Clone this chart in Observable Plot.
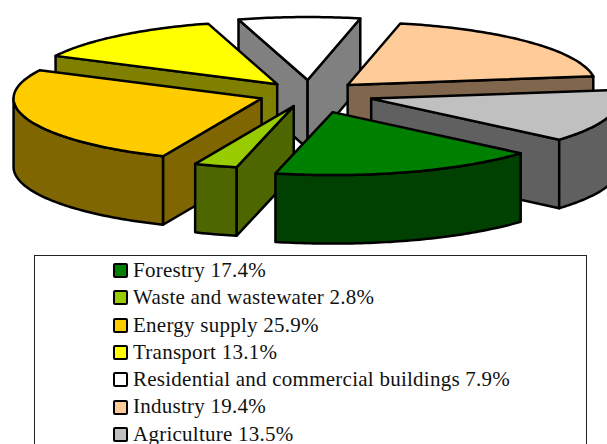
<!DOCTYPE html>
<html><head><meta charset="utf-8">
<script src="https://cdn.jsdelivr.net/npm/d3@7"></script>
<script src="https://cdn.jsdelivr.net/npm/@observablehq/plot@0.6"></script>
<style>
html,body{margin:0;padding:0;background:#fff;overflow:hidden;width:607px;height:444px}
svg{display:block}
#legend{box-sizing:border-box;margin:5px 0 0 34px;width:553px;height:200px;border:1px solid #222;padding:1px 0 0 78px;
font-family:"Liberation Serif",serif;font-size:21px;letter-spacing:.25px;line-height:27.3px;color:#111}
#legend div{white-space:nowrap;height:27.3px;display:flex;align-items:center}
#legend i{display:inline-block;box-sizing:border-box;width:15px;height:15px;border:2px solid #000;border-radius:2px;margin-right:5px}
</style></head><body>
<div id="chart"></div><div id="legend"></div>
<script>
const categories=["Forestry","Waste and wastewater","Energy supply","Transport","Residential and commercial buildings","Industry","Agriculture"];
const shares=[17.4,2.8,25.9,13.1,7.9,19.4,13.5];
const topColors=["#008000","#99cc00","#ffcc00","#ffff00","#ffffff","#ffcc99","#c0c0c0"];
const sideColors=["#004000","#4d6600","#806600","#808000","#808080","#80664d","#606060"];
const explosion=[75,50,51,50.5,55,52,64.3];
const drawOrder=[4,3,5,6,2,1,0];

const W=607,H=250,cx=309,cy=93.5,rx=248,ry=63,depth=68.5,startAngle=40.7;
const rad=d=>d*Math.PI/180;
const total=d3.sum(shares);
let acc=startAngle;
const slices=shares.map((s,i)=>{const t0=acc;acc+=s/total*360;const t1=acc,m=(t0+t1)/2;
  return {i,t0,t1,ax:cx+explosion[i]*Math.cos(rad(m)),ay:cy+explosion[i]*ry/rx*Math.sin(rad(m))};});
const rows=[];
const poly=(key,fill,pts)=>pts.forEach(([x,y])=>rows.push({key,fill,x,y}));
const pt=(s,t)=>[s.ax+rx*Math.cos(rad(t)),s.ay+ry*Math.sin(rad(t))];
const down=([x,y])=>[x,y+depth];
const arc=(s,a,b)=>{const n=Math.max(2,Math.ceil((b-a)));return d3.range(n+1).map(j=>pt(s,a+(b-a)*j/n));};
for(const idx of drawOrder){
  const s=slices[idx],side=sideColors[idx],A=[s.ax,s.ay];
  if(Math.cos(rad(s.t0))<0){const P=pt(s,s.t0);poly(idx+"cuta",side,[A,P,down(P),down(A)]);}
  if(Math.cos(rad(s.t1))>0){const P=pt(s,s.t1);poly(idx+"cutb",side,[A,P,down(P),down(A)]);}
  for(const k of [0,360]){
    const lo=Math.max(s.t0,k),hi=Math.min(s.t1,k+180);
    if(lo<hi){const c=arc(s,lo,hi);poly(idx+"wall"+k,side,[...c,...c.map(down).reverse()]);}
  }
  poly(idx+"top",topColors[idx],[A,...arc(s,s.t0,s.t1)]);
}
const plot=Plot.plot({width:W,height:H,margin:0,
  x:{domain:[0,W],range:[0,W],axis:null},y:{domain:[0,H],range:[0,H],axis:null},
  color:{type:"identity"},
  marks:[Plot.line(rows,{x:"x",y:"y",z:"key",fill:"fill",stroke:"#000",strokeWidth:2.5,strokeLinejoin:"round",curve:"linear-closed"})]});
document.getElementById("chart").append(plot);
const lg=document.getElementById("legend");
categories.forEach((c,i)=>{const d=document.createElement("div");const sw=document.createElement("i");sw.style.background=topColors[i];
  d.append(sw,document.createTextNode(`${c} ${shares[i].toFixed(1)}%`));lg.append(d);});
</script></body></html>
